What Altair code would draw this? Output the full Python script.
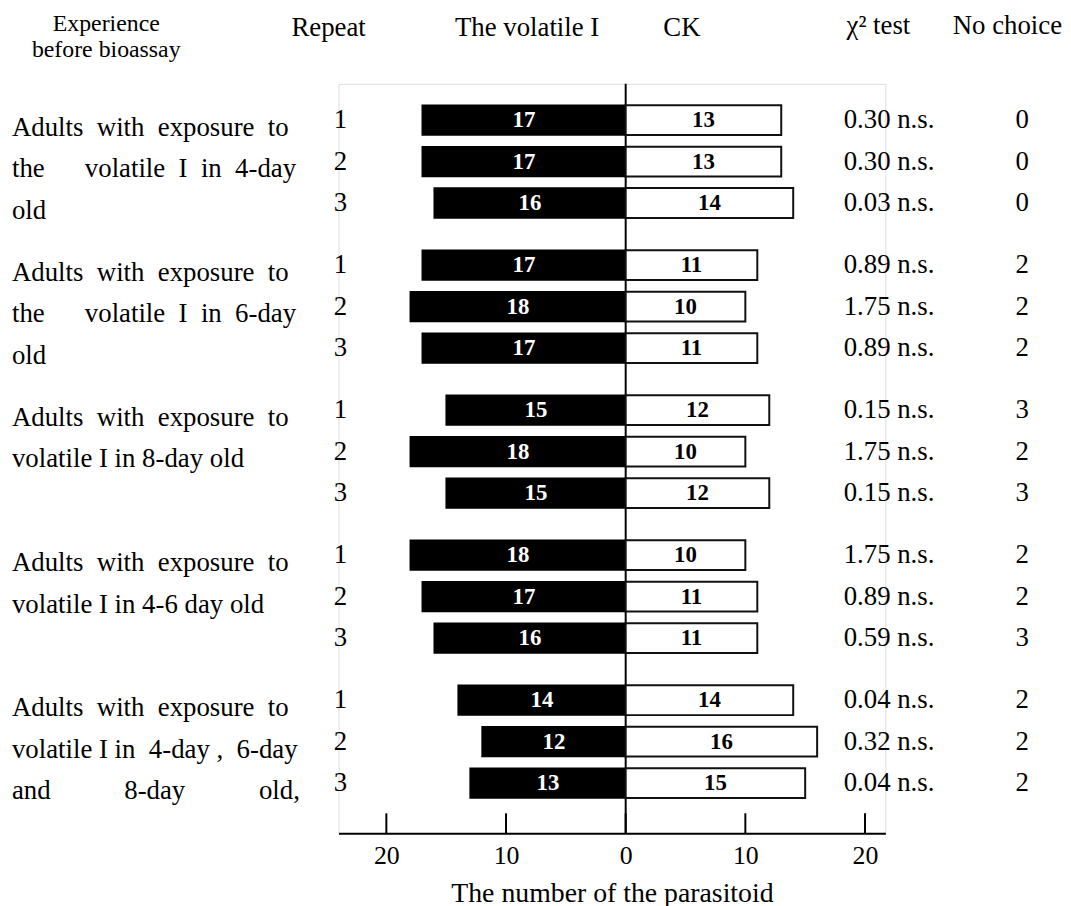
import altair as alt
import pandas as pd

FONT = "Liberation Serif"
NB = "\u00a0"

# ---------------- data ----------------
group_lines = [
    [f"Adults{NB*2}with{NB*2}exposure{NB*2}to",
     f"the{NB*6}volatile{NB*2}I{NB*2}in{NB*2}4-day",
     "old"],
    [f"Adults{NB*2}with{NB*2}exposure{NB*2}to",
     f"the{NB*6}volatile{NB*2}I{NB*2}in{NB*2}6-day",
     "old"],
    [f"Adults{NB*2}with{NB*2}exposure{NB*2}to",
     "volatile I in 8-day old"],
    [f"Adults{NB*2}with{NB*2}exposure{NB*2}to",
     "volatile I in 4-6 day old"],
    [f"Adults{NB*2}with{NB*2}exposure{NB*2}to",
     f"volatile I in{NB*2}4-day{NB},{NB*2}6-day",
     f"and{NB*11}8-day{NB*11}old,"],
]
repeats = ["1", "2", "3"]
volatile = [[17, 17, 16], [17, 18, 17], [15, 18, 15], [18, 17, 16], [14, 12, 13]]
ck = [[13, 13, 14], [11, 10, 11], [12, 10, 12], [10, 11, 11], [14, 16, 15]]
chi = [["0.30", "0.30", "0.03"], ["0.89", "1.75", "0.89"], ["0.15", "1.75", "0.15"],
       ["1.75", "0.89", "0.59"], ["0.04", "0.32", "0.04"]]
no_choice = [[0, 0, 0], [2, 2, 2], [3, 2, 3], [2, 2, 3], [2, 2, 2]]
tick_values = [-20, -10, 0, 10, 20]

GROUP_STEP = 3.5

rows = []
for g in range(len(volatile)):
    for r in range(3):
        rows.append(dict(pos=g * GROUP_STEP + r, repeat=repeats[r],
                         vol=volatile[g][r], ck=ck[g][r],
                         chi=chi[g][r] + " n.s.", nc=str(no_choice[g][r])))
df = pd.DataFrame(rows)

lbl_rows = []
for g, lines in enumerate(group_lines):
    for k, line in enumerate(lines):
        lbl_rows.append(dict(pos=g * GROUP_STEP + k, line=line))
df_lbl = pd.DataFrame(lbl_rows)

# ---------------- layout ----------------
PAD_L, PAD_T = 333, 73          # plot area origin on page = (341, 81)
W, H = 551, 755
xs = alt.Scale(domain=[-24, 21.7], nice=False, zero=False)
ys = alt.Scale(domain=[-0.756, 17.088], reverse=True, nice=False, zero=False)


def px(page_x):
    return page_x - 8 - PAD_L


def py(page_y):
    return page_y - 8 - PAD_T


xaxis = alt.Axis(values=tick_values, labelExpr="abs(datum.value)", ticks=False,
                 grid=False, domain=True, domainColor="black", domainWidth=2,
                 labelFont=FONT, labelFontSize=26, labelColor="black",
                 labelPadding=10, title="The number of the parasitoid",
                 titleFont=FONT, titleFontSize=28, titleFontWeight="normal",
                 titleColor="black", titlePadding=11)
Y = alt.Y("pos:Q", scale=ys, axis=None)

base = alt.Chart(df).transform_calculate(
    vol_neg="-datum.vol", zero="0", vol_mid="-datum.vol/2", ck_mid="datum.ck/2"
)

zero_rule = alt.Chart(pd.DataFrame({"v": [0]})).mark_rule(
    color="black", strokeWidth=2
).encode(x=alt.X("v:Q", scale=xs, axis=xaxis), y=alt.value(0), y2=alt.value(H))

ticks = alt.Chart(pd.DataFrame({"v": tick_values})).mark_rule(
    color="black", strokeWidth=2
).encode(x=alt.X("v:Q", scale=xs, axis=xaxis), y=alt.value(H - 20), y2=alt.value(H))

black_bars = base.mark_bar(size=30, color="black", stroke="black", strokeWidth=1.5).encode(
    x=alt.X("vol_neg:Q", scale=xs, axis=xaxis), x2="zero:Q", y=Y)
white_bars = base.mark_bar(size=30, fill="white", stroke="#111", strokeWidth=2).encode(
    x=alt.X("zero:Q", scale=xs, axis=xaxis), x2="ck:Q", y=Y)

vol_text = base.mark_text(font=FONT, fontSize=23, fontWeight="bold", color="white",
                          baseline="middle").encode(
    x=alt.X("vol_mid:Q", scale=xs, axis=xaxis), y=Y, text="vol:Q")
ck_text = base.mark_text(font=FONT, fontSize=23, fontWeight="bold", color="black",
                         baseline="middle").encode(
    x=alt.X("ck_mid:Q", scale=xs, axis=xaxis), y=Y, text="ck:Q")

rep_text = base.mark_text(font=FONT, fontSize=27, align="center", baseline="middle",
                          color="black").encode(x=alt.value(px(343)), y=Y, text="repeat:N")
chi_text = base.mark_text(font=FONT, fontSize=27, align="left", baseline="middle",
                          color="black").encode(x=alt.value(px(850)), y=Y, text="chi:N")
nc_text = base.mark_text(font=FONT, fontSize=27, align="center", baseline="middle",
                         color="black").encode(x=alt.value(px(1030)), y=Y, text="nc:N")

grp_text = alt.Chart(df_lbl).mark_text(font=FONT, fontSize=27, align="left",
                                        baseline="middle", dy=8, color="black").encode(
    x=alt.value(px(12)), y=Y, text="line:N")


def header(text, x, y, size=27):
    return alt.Chart(pd.DataFrame({"t": [text]})).mark_text(
        font=FONT, fontSize=size, align="center", baseline="middle", color="black"
    ).encode(x=alt.value(px(x)), y=alt.value(py(y)), text="t:N")


headers = [
    header("Experience", 107, 21, 24),
    header("before bioassay", 107, 47, 24),
    header("Repeat", 331, 25),
    header("The volatile I", 531, 25),
    header("CK", 687, 25),
    header("\u03c7\u00b2 test", 885, 23),
    header("No choice", 1015, 23),
]

chart = alt.layer(
    zero_rule, ticks, black_bars, white_bars, vol_text, ck_text,
    rep_text, chi_text, nc_text, grp_text, *headers
).properties(
    width=W, height=H,
    autosize=alt.AutoSizeParams(type="none"),
    padding={"left": PAD_L, "top": PAD_T, "right": 1071 - 8 - PAD_L - W, "bottom": 72},
).configure_view(stroke=None).configure(background="white")

chart.save("out.html", embed_options={"renderer": "svg", "actions": False})
